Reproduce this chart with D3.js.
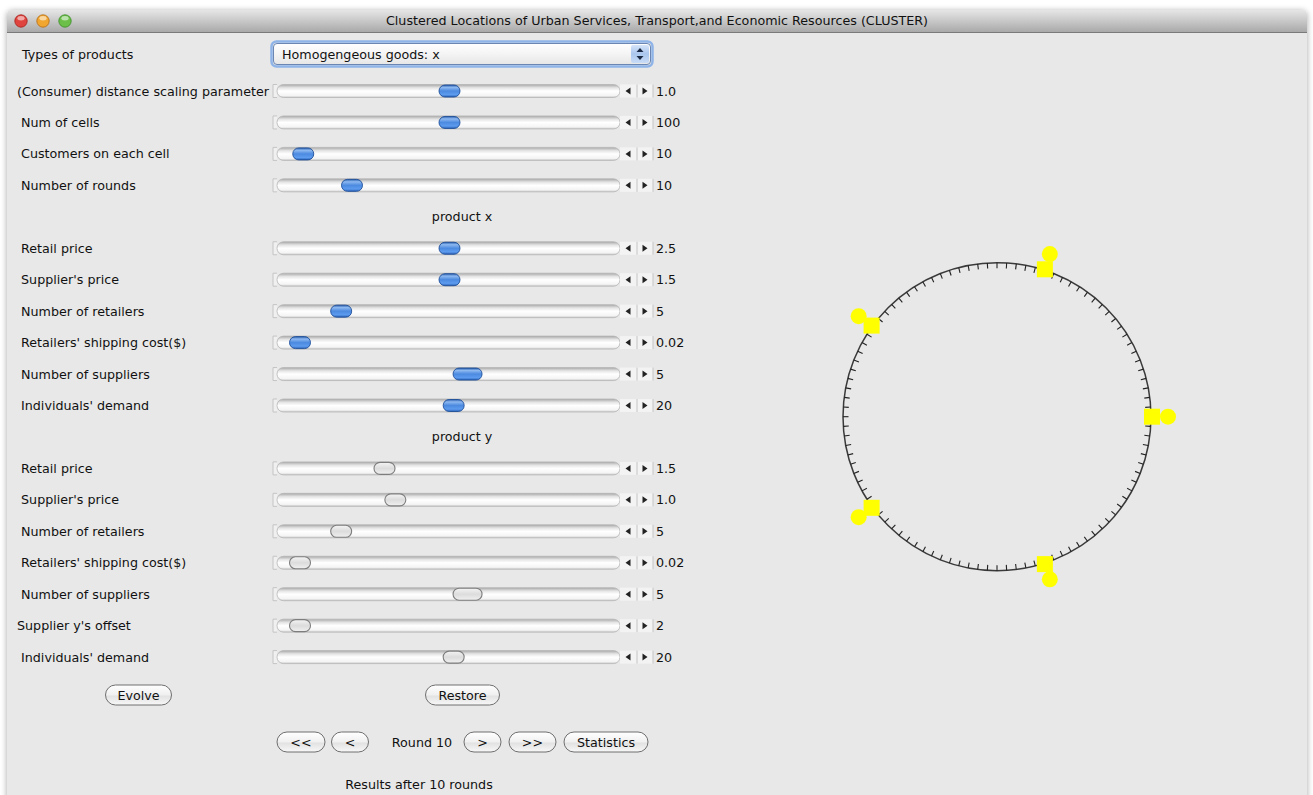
<!DOCTYPE html>
<html>
<head>
<meta charset="utf-8">
<script src="https://cdn.jsdelivr.net/npm/d3@7"></script>
<style>
  html, body { margin: 0; padding: 0; background: #fff; }
  svg text { font-family: "DejaVu Sans", "Noto Sans", sans-serif; font-size: 12.7px; fill: #111; white-space: pre; }
</style>
</head>
<body>
<div id="chart"></div>
<script>
// ---- data ----
const windowTitle = 'Clustered Locations of Urban Services, Transport,and Economic Resources (CLUSTER)';
const productTypes = ['Homogengeous goods: x'];

const generalLabels = ['(Consumer) distance scaling parameter', ' Num of cells', ' Customers on each cell', ' Number of rounds'];
const generalValues = [1.0, 100, 10, 10];
const generalText = ['1.0', '100', '10', '10'];
const generalMin = [0, 0, 0, 0];
const generalMax = [2, 200, 200, 50];
const generalExtent = [1, 1, 1, 1];

const productXLabels = [' Retail price', " Supplier's price", ' Number of retailers', " Retailers' shipping cost($)", ' Number of suppliers', " Individuals' demand"];
const productXValues = [2.5, 1.5, 5, 0.02, 5, 20];
const productXText = ['2.5', '1.5', '5', '0.02', '5', '20'];
const productXMin = [0, 0, 0, 0, 0, 0];
const productXMax = [5, 3, 30, 0.5, 9, 39];
const productXExtent = [1, 1, 1, 1, 2, 1];

const productYLabels = [' Retail price', " Supplier's price", ' Number of retailers', " Retailers' shipping cost($)", ' Number of suppliers', "Supplier y's offset", " Individuals' demand"];
const productYValues = [1.5, 1.0, 5, 0.02, 5, 2, 20];
const productYText = ['1.5', '1.0', '5', '0.02', '5', '2', '20'];
const productYMin = [0, 0, 0, 0, 0, 0, 0];
const productYMax = [5, 3, 30, 0.5, 9, 50, 39];
const productYExtent = [1, 1, 1, 1, 2, 1, 1];

const numCells = 100;
const retailerCells = [5, 25, 45, 65, 85];
const supplierCells = [5, 25, 45, 65, 85];
const currentRound = 10;
const navButtons = ['<<', '<', '>', '>>', 'Statistics'];

// ---- layout ----
const W = 1313, H = 795;
const svg = d3.select('#chart').append('svg').attr('width', W).attr('height', H);
const defs = svg.append('defs');

function vGrad(id, stops) {
  const g = defs.append('linearGradient').attr('id', id).attr('x1', 0).attr('y1', 0).attr('x2', 0).attr('y2', 1);
  stops.forEach(([o, c]) => g.append('stop').attr('offset', o).attr('stop-color', c));
}
vGrad('titleGrad', [[0, '#e6e6e6'], [1, '#a9a9a9']]);
vGrad('trackGrad', [[0, '#a8a8a8'], [0.25, '#e4e4e4'], [0.5, '#ffffff'], [0.85, '#f4f4f4'], [1, '#c8c8c8']]);
vGrad('blueThumb', [[0, '#2a5fae'], [0.2, '#8db8f0'], [0.5, '#4c8ae0'], [0.8, '#5d9bef'], [1, '#2a63b8']]);
vGrad('grayThumb', [[0, '#f4f4f4'], [0.5, '#dcdcdc'], [1, '#f0f0f0']]);
vGrad('btnGrad', [[0, '#ffffff'], [0.5, '#f0f0f0'], [0.55, '#e2e2e2'], [1, '#f8f8f8']]);
vGrad('comboGrad', [[0, '#ffffff'], [0.5, '#f4f4f4'], [1, '#e6e6e6']]);
vGrad('stepGrad', [[0, '#d6e4f8'], [0.5, '#a9c6ee'], [1, '#c9dcf6']]);
const shadow = defs.append('filter').attr('id', 'winShadow').attr('x', -0.05).attr('y', -0.05).attr('width', 1.1).attr('height', 1.1);
shadow.append('feDropShadow').attr('dx', 0).attr('dy', 1).attr('stdDeviation', 3).attr('flood-color', '#000').attr('flood-opacity', 0.35);

// window frame
const win = { x: 7, y: 10, w: 1300, h: 800 };
svg.append('rect').attr('x', win.x).attr('y', win.y).attr('width', win.w).attr('height', win.h)
  .attr('rx', 5).attr('fill', '#e8e8e8').attr('filter', 'url(#winShadow)');
svg.append('path')
  .attr('d', `M${win.x},${win.y + 22} V${win.y + 5} Q${win.x},${win.y} ${win.x + 5},${win.y} H${win.x + win.w - 5} Q${win.x + win.w},${win.y} ${win.x + win.w},${win.y + 5} V${win.y + 22} Z`)
  .attr('fill', 'url(#titleGrad)');
svg.append('line').attr('x1', win.x).attr('x2', win.x + win.w).attr('y1', win.y + 22.5).attr('y2', win.y + 22.5).attr('stroke', '#7a7a7a');
svg.append('text').attr('x', 657).attr('y', 25).attr('text-anchor', 'middle').text(windowTitle);

const lights = [['#e0443e', '#a3201b'], ['#f1a630', '#b26a12'], ['#6cc04a', '#3a8a24']];
lights.forEach(([c, s], i) => {
  const cx = 21 + i * 22;
  svg.append('circle').attr('cx', cx).attr('cy', 21).attr('r', 6.2).attr('fill', c).attr('stroke', s).attr('stroke-width', 0.8);
  svg.append('ellipse').attr('cx', cx).attr('cy', 18.3).attr('rx', 3.6).attr('ry', 2.2).attr('fill', '#fff').attr('opacity', 0.55);
});

// combo box
svg.append('text').attr('x', 22).attr('y', 58.5).text('Types of products');
svg.append('rect').attr('x', 271.5).attr('y', 41.5).attr('width', 381).attr('height', 25).attr('rx', 5)
  .attr('fill', 'none').attr('stroke', '#8fb4e8').attr('stroke-width', 2.5);
svg.append('rect').attr('x', 273.5).attr('y', 43.5).attr('width', 377).attr('height', 21).attr('rx', 3.5)
  .attr('fill', 'url(#comboGrad)').attr('stroke', '#6b86b3');
svg.append('rect').attr('x', 631).attr('y', 45).attr('width', 18).attr('height', 18).attr('rx', 2).attr('fill', 'url(#stepGrad)');
svg.append('path').attr('d', 'M636.5,52 L640,48 L643.5,52 Z M636.5,56 L640,60 L643.5,56 Z').attr('fill', '#1b2a44');
svg.append('text').attr('x', 282).attr('y', 58.5).text(productTypes[0]);

// rows
const rowY = d3.scaleLinear().domain([0, 18]).range([91, 657.1]);
const thumbX = d3.scaleLinear().range([287, 612]);
const unitW = 21;

function drawSlider(k, label, value, text, min, max, extent, blue) {
  const y = rowY(k);
  const g = svg.append('g');
  g.append('text').attr('x', 17).attr('y', y + 4.5).text(label);
  // left end cap
  g.append('path').attr('d', `M277,${y - 6.5} H273 V${y + 6.5} H277`).attr('fill', '#f0f0f0').attr('stroke', '#c4c4c4');
  g.append('rect').attr('x', 277).attr('y', y - 6.5).attr('width', 343).attr('height', 13).attr('rx', 6.5)
    .attr('fill', 'url(#trackGrad)').attr('stroke', '#b6b6b6').attr('stroke-width', 0.8);
  // arrow buttons
  g.append('rect').attr('x', 620).attr('y', y - 6.5).attr('width', 33).attr('height', 13).attr('fill', '#f3f3f3');
  g.append('line').attr('x1', 637).attr('x2', 637).attr('y1', y - 6.5).attr('y2', y + 6.5).attr('stroke', '#c4c4c4');
  g.append('line').attr('x1', 653).attr('x2', 653).attr('y1', y - 6.5).attr('y2', y + 6.5).attr('stroke', '#c4c4c4');
  g.append('path').attr('d', `M625.5,${y} L630.5,${y - 3.5} V${y + 3.5} Z M647.5,${y} L642.5,${y - 3.5} V${y + 3.5} Z`).attr('fill', '#222');
  // thumb
  thumbX.domain([min, max]);
  const tw = unitW + (extent - 1) * 8;
  const cx = thumbX(value);
  g.append('rect').attr('x', cx - tw / 2).attr('y', y - 6).attr('width', tw).attr('height', 12).attr('rx', 6)
    .attr('fill', blue ? 'url(#blueThumb)' : 'url(#grayThumb)')
    .attr('stroke', blue ? '#1f4f99' : '#7d7d7d').attr('stroke-width', blue ? 0.9 : 1.1);
  g.append('text').attr('x', 656).attr('y', y + 4.5).text(text);
}

generalLabels.forEach((l, i) => drawSlider(i, l, generalValues[i], generalText[i], generalMin[i], generalMax[i], generalExtent[i], true));
svg.append('text').attr('x', 462).attr('y', rowY(4) + 4.5).attr('text-anchor', 'middle').text('product x');
productXLabels.forEach((l, i) => drawSlider(5 + i, l, productXValues[i], productXText[i], productXMin[i], productXMax[i], productXExtent[i], true));
svg.append('text').attr('x', 462).attr('y', rowY(11) + 4.5).attr('text-anchor', 'middle').text('product y');
productYLabels.forEach((l, i) => drawSlider(12 + i, l, productYValues[i], productYText[i], productYMin[i], productYMax[i], productYExtent[i], false));

// buttons
function button(cx, cy, w, label) {
  svg.append('rect').attr('x', cx - w / 2).attr('y', cy - 10).attr('width', w).attr('height', 20).attr('rx', 10)
    .attr('fill', 'url(#btnGrad)').attr('stroke', '#6f6f6f');
  svg.append('text').attr('x', cx).attr('y', cy + 4.5).attr('text-anchor', 'middle').text(label);
}
button(138.5, 695, 66, 'Evolve');
button(462.5, 695, 74, 'Restore');

const navX = [301, 350, 482.5, 532.5, 606];
const navW = [48, 37, 37, 47, 84];
navButtons.forEach((b, i) => button(navX[i], 742, navW[i], b));
svg.append('text').attr('x', 422).attr('y', 746.5).attr('text-anchor', 'middle').text(`Round ${currentRound}`);
svg.append('text').attr('x', 419).attr('y', 788.5).attr('text-anchor', 'middle').text(`Results after ${currentRound} rounds`);

// ring of cells
const ring = { cx: 997, cy: 416.7, r: 154 };
const angle = d3.scaleLinear().domain([0, numCells]).range([0, 2 * Math.PI]);
const rg = svg.append('g').attr('transform', `translate(${ring.cx},${ring.cy})`);
rg.append('circle').attr('r', ring.r).attr('fill', 'none').attr('stroke', '#3a3a3a').attr('stroke-width', 1.5);
rg.selectAll('line.tick').data(d3.range(numCells)).join('line')
  .attr('class', 'tick')
  .attr('x1', d => Math.sin(angle(d)) * ring.r)
  .attr('y1', d => -Math.cos(angle(d)) * ring.r)
  .attr('x2', d => Math.sin(angle(d)) * (ring.r - 5.5))
  .attr('y2', d => -Math.cos(angle(d)) * (ring.r - 5.5))
  .attr('stroke', '#222').attr('stroke-width', 1.1);

rg.selectAll('rect.retailer').data(retailerCells).join('rect')
  .attr('class', 'retailer')
  .attr('x', d => Math.sin(angle(d)) * (ring.r + 1) - 8)
  .attr('y', d => -Math.cos(angle(d)) * (ring.r + 1) - 8)
  .attr('width', 16).attr('height', 16).attr('fill', '#ffff00');
rg.selectAll('circle.supplier').data(supplierCells).join('circle')
  .attr('class', 'supplier')
  .attr('cx', d => Math.sin(angle(d)) * (ring.r + 17))
  .attr('cy', d => -Math.cos(angle(d)) * (ring.r + 17))
  .attr('r', 8).attr('fill', '#ffff00');
</script>
</body>
</html>
